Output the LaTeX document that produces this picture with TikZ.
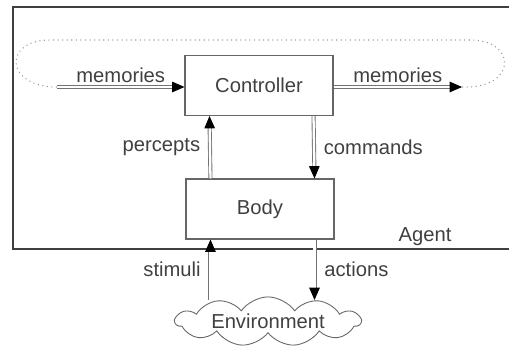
\documentclass[tikz,border=0pt]{standalone}
\usepackage{fontspec}
\setmainfont{Liberation Sans}
\usetikzlibrary{arrows.meta,shapes.symbols,positioning}

\tikzset{
  block/.style={draw=black!60,line width=0.6pt,minimum width=2.96cm,minimum height=1.2cm,text=black!75},
  flow/.style={draw=black!55,double=white,double distance=1.3pt,line width=0.5pt,-{Triangle[length=7pt,width=6pt,color=black,fill=black]}},
  lbl/.style={text=black!75}
}

\begin{document}
\begin{tikzpicture}[font=\fontsize{11.5}{13}\selectfont]

\useasboundingbox (0, 0) rectangle (10.18, 6.98);

\draw [draw=black!75,line width=1.6pt] (0.26, 2.0) rectangle (10.6, 6.84);

\node [block] (ctrl) at (5.18, 5.27) {Controller};
\node [block] (body) at (5.2, 2.8) {Body};
\node [cloud,draw=black!60,line width=0.5pt,cloud puffs=11,cloud puff arc=110,aspect=6,minimum width=3.7cm,minimum height=0.55cm,inner sep=0pt,text=black!75] (env) at (5.36, 0.55) {Environment};

\coordinate (memin) at (1.14, 5.24);
\coordinate (memout) at (9.24, 5.24);

% memory loop
\draw [black!40,dotted,line width=0.6pt] (memout) .. controls (10.35, 5.2) and (10.35, 6.18) .. (9.4, 6.18) -- (1.0, 6.18) .. controls (0.05, 6.18) and (0.1, 5.24) .. (memin);

\draw [flow] (memin) -- node [lbl,above=-1pt] {memories} (memin -| ctrl.west);
\draw [flow] (memout -| ctrl.east) -- node [lbl,above=-1pt] {memories} (memout);

\draw [flow] ([xshift=0.5cm]body.north west) -- node [lbl,left=2pt] {percepts} ([xshift=0.5cm]ctrl.south west);
\draw [flow] ([xshift=-0.4cm]ctrl.south east) -- node [lbl,right=2pt] {commands} ([xshift=-0.4cm]body.north east);

\coordinate (stimfoot) at ([xshift=0.5cm]body.south west |- 0, 0.98);
\coordinate (actfoot) at ([xshift=-0.4cm]body.south east |- 0, 0.98);
\draw [flow] (stimfoot) -- node [lbl,left=2pt] {stimuli} ([xshift=0.5cm]body.south west);
\draw [flow] ([xshift=-0.4cm]body.south east) -- node [lbl,right=2pt] {actions} (actfoot);

\node [lbl] (agent) at (8.5, 2.24) {Agent};

\end{tikzpicture}
\end{document}
